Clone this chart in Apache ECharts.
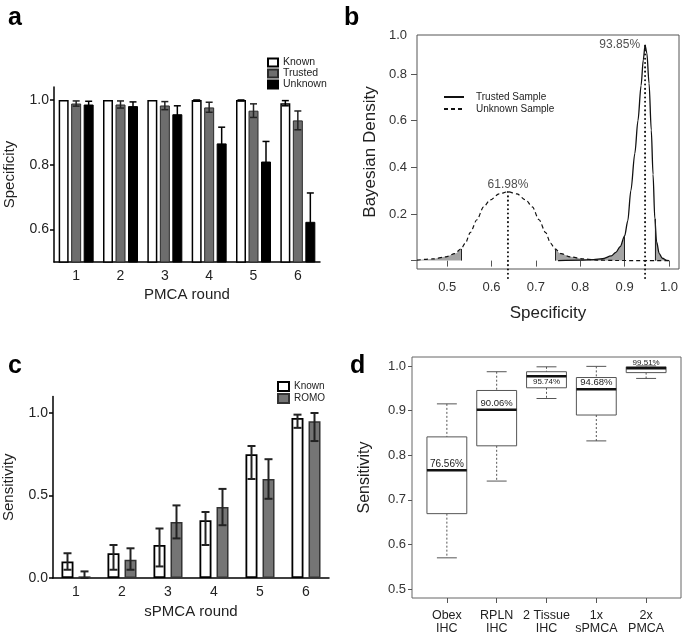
<!DOCTYPE html>
<html>
<head>
<meta charset="utf-8">
<script src="https://cdn.jsdelivr.net/npm/echarts@6/dist/echarts.min.js"></script>
<style>
html, body { margin: 0; padding: 0; background: #fff; }
#main { width: 685px; height: 637px; }
</style>
</head>
<body>
<div id="main"></div>
<script>
// ---- panel a: specificity per PMCA round
var roundsA = ['1', '2', '3', '4', '5', '6'];
var knownA = [1.0, 1.0, 1.0, 1.0, 1.0, 0.99];
var knownAHi = [1.0, 1.0, 1.0, 1.0, 1.0, 0.998];
var knownALo = [1.0, 1.0, 1.0, 0.996, 0.997, 0.982];
var trustedA = [0.989, 0.986, 0.983, 0.977, 0.967, 0.937];
var trustedAHi = [0.997, 0.997, 0.995, 0.993, 0.988, 0.966];
var trustedALo = [0.981, 0.975, 0.970, 0.962, 0.946, 0.908];
var unknownA = [0.986, 0.981, 0.956, 0.866, 0.810, 0.624];
var unknownAHi = [0.996, 0.994, 0.982, 0.916, 0.872, 0.713];
var unknownALo = [0.976, 0.968, 0.930, 0.816, 0.748, 0.535];

// ---- panel b: posterior densities
var trustedCurve = [[0.75, 0], [0.80, 0.002], [0.83, 0.004], [0.85, 0.008], [0.87, 0.02], [0.88, 0.035],
  [0.89, 0.06], [0.90, 0.106], [0.907, 0.17], [0.914, 0.3], [0.923, 0.46], [0.93, 0.6], [0.937, 0.75],
  [0.942, 0.86], [0.946, 0.924], [0.95, 0.89], [0.955, 0.76], [0.96, 0.56], [0.964, 0.37], [0.968, 0.18],
  [0.972, 0.08], [0.978, 0.03], [0.985, 0.01], [0.995, 0.001], [1.0, 0]];
var unknownCurve = [[0.432, 0.002], [0.467, 0.007], [0.497, 0.016], [0.517, 0.03], [0.531, 0.05],
  [0.541, 0.075], [0.552, 0.12], [0.567, 0.175], [0.582, 0.23], [0.597, 0.26], [0.617, 0.286],
  [0.637, 0.295], [0.657, 0.286], [0.677, 0.26], [0.692, 0.23], [0.707, 0.175], [0.722, 0.12],
  [0.733, 0.075], [0.743, 0.05], [0.757, 0.03], [0.777, 0.016], [0.807, 0.007], [0.842, 0.002],
  [0.88, 0.0005], [0.95, 0], [1.0, 0]];
var trustedCuts = [0.90, 0.968];
var unknownCuts = [0.531, 0.743];
var peakX = [0.637, 0.946];
var peakY = [0.295, 0.924];
var peakText = ['61.98%', '93.85%'];

// ---- panel c: sensitivity per sPMCA round
var roundsC = ['1', '2', '3', '4', '5', '6'];
var knownC = [0.10, 0.15, 0.20, 0.35, 0.75, 0.97];
var knownCHi = [0.15, 0.20, 0.30, 0.40, 0.80, 0.99];
var knownCLo = [0.05, 0.05, 0.07, 0.20, 0.60, 0.91];
var romoC = [0.01, 0.11, 0.34, 0.43, 0.60, 0.95];
var romoCHi = [0.04, 0.18, 0.44, 0.54, 0.72, 1.0];
var romoCLo = [0.0, 0.05, 0.24, 0.32, 0.48, 0.83];

// ---- panel d: sensitivity by test
var testsD = ['Obex\nIHC', 'RPLN\nIHC', '2 Tissue\nIHC', '1x\nsPMCA', '2x\nPMCA'];
var boxLow = [0.570, 0.742, 0.927, 0.832, 0.972];
var boxQ1 = [0.669, 0.821, 0.951, 0.890, 0.985];
var boxMed = [0.766, 0.902, 0.977, 0.948, 0.995];
var boxQ3 = [0.841, 0.945, 0.987, 0.974, 0.998];
var boxHigh = [0.915, 0.987, 0.998, 0.999, 1.0];
var medLabels = ['76.56%', '90.06%', '95.74%', '94.68%', '99.51%'];

var FONT = 'Liberation Sans, Arial, sans-serif';
var medFont = [10, 9.5, 8, 9.5, 8];

function errSeries(axis, hi, lo, offset, color, capW, lw) {
  return {
    type: 'custom', xAxisIndex: axis, yAxisIndex: axis, silent: true, z: 5,
    data: hi.map(function (h, i) { return [i, h, lo[i]]; }),
    renderItem: function (params, api) {
      var a = api.coord([api.value(0), api.value(1)]);
      var b = api.coord([api.value(0), api.value(2)]);
      if (Math.abs(a[1] - b[1]) < 0.5) return;
      var x = a[0] + offset;
      var st = { stroke: color, lineWidth: lw };
      return {
        type: 'group', children: [
          { type: 'line', shape: { x1: x, y1: a[1], x2: x, y2: b[1] }, style: st },
          { type: 'line', shape: { x1: x - capW / 2, y1: a[1], x2: x + capW / 2, y2: a[1] }, style: st },
          { type: 'line', shape: { x1: x - capW / 2, y1: b[1], x2: x + capW / 2, y2: b[1] }, style: st }
        ]
      };
    }
  };
}

function heightAt(curve, x) {
  for (var i = 0; i < curve.length; i++) {
    if (curve[i][0] === x) return curve[i][1];
  }
  return 0;
}

// shaded tail under a curve, left of cut (side<0) or right of cut (side>0)
function tailSeries(curve, cut, side) {
  var pts = curve.filter(function (p) { return side < 0 ? p[0] <= cut : p[0] >= cut; });
  return {
    type: 'line', xAxisIndex: 1, yAxisIndex: 1, data: pts, symbol: 'none', silent: true,
    smooth: 0.3, smoothMonotone: 'x', z: 2,
    lineStyle: { width: 0 },
    areaStyle: { color: '#a4a4a4', opacity: 1 },
    markLine: {
      symbol: 'none', silent: true, label: { show: false },
      lineStyle: { color: '#222', type: 'solid', width: 1 },
      data: [[{ coord: [cut, 0] }, { coord: [cut, heightAt(curve, cut)] }]]
    }
  };
}

function renderBox(params, api) {
  var i = params.dataIndex;
  var x = api.value(0);
  var lo = api.coord([x, api.value(1)]);
  var q1 = api.coord([x, api.value(2)]);
  var med = api.coord([x, api.value(3)]);
  var q3 = api.coord([x, api.value(4)]);
  var hi = api.coord([x, api.value(5)]);
  var bw = api.size([0.8, 0])[0];
  var cw = api.size([0.4, 0])[0];
  var cx = med[0];
  var stroke = '#555';
  var dash = { stroke: stroke, lineWidth: 1, lineDash: [2, 2] };
  var solid = { stroke: stroke, lineWidth: 1 };
  var below = i === 2;
  return {
    type: 'group', children: [
      { type: 'line', shape: { x1: cx, y1: hi[1], x2: cx, y2: q3[1] }, style: dash },
      { type: 'line', shape: { x1: cx, y1: q1[1], x2: cx, y2: lo[1] }, style: dash },
      { type: 'line', shape: { x1: cx - cw / 2, y1: hi[1], x2: cx + cw / 2, y2: hi[1] }, style: solid },
      { type: 'line', shape: { x1: cx - cw / 2, y1: lo[1], x2: cx + cw / 2, y2: lo[1] }, style: solid },
      { type: 'rect', shape: { x: cx - bw / 2, y: q3[1], width: bw, height: q1[1] - q3[1] },
        style: { fill: '#fff', stroke: stroke, lineWidth: 1 } },
      { type: 'line', shape: { x1: cx - bw / 2, y1: med[1], x2: cx + bw / 2, y2: med[1] },
        style: { stroke: '#111', lineWidth: 2.5 } },
      { type: 'text', z2: 10, style: {
          text: medLabels[i], x: cx, y: below ? med[1] + 2 : med[1] - 1.5,
          align: 'center', verticalAlign: below ? 'top' : 'bottom',
          fontSize: medFont[i], fontFamily: FONT, fill: '#222' } }
    ]
  };
}

var chart = echarts.init(document.getElementById('main'));

var boxed = { show: true, borderColor: '#555', borderWidth: 1, backgroundColor: 'transparent' };
var dotted = { color: '#111', width: 2, type: [0.1, 4.2], cap: 'round' };

var option = {
  animation: false,
  textStyle: { fontFamily: FONT },
  title: [
    { text: 'a', left: 3, top: 1, textStyle: { fontSize: 25, fontWeight: 'bold', color: '#000' } },
    { text: 'b', left: 339, top: 1, textStyle: { fontSize: 25, fontWeight: 'bold', color: '#000' } },
    { text: 'c', left: 3, top: 349, textStyle: { fontSize: 25, fontWeight: 'bold', color: '#000' } },
    { text: 'd', left: 345, top: 349, textStyle: { fontSize: 25, fontWeight: 'bold', color: '#000' } }
  ],
  legend: [
    { data: ['Known', 'Trusted', 'Unknown'], left: 267, top: 57, orient: 'vertical', icon: 'rect',
      itemWidth: 10, itemHeight: 8, itemGap: 0, selectedMode: false, padding: 0,
      textStyle: { fontSize: 10.5, color: '#222' } },
    { data: ['Trusted Sample', 'Unknown Sample'], left: 443, top: 92, orient: 'vertical',
      itemWidth: 20, itemHeight: 10, itemGap: 2, selectedMode: false, padding: 0,
      itemStyle: { color: 'transparent', borderWidth: 0, opacity: 0 },
      textStyle: { fontSize: 10, color: '#222', padding: [0, 0, 0, 7] } },
    { data: ['Known', 'ROMO'], left: 277, top: 381, orient: 'vertical', icon: 'rect',
      itemWidth: 11, itemHeight: 9, itemGap: 1, selectedMode: false, padding: 0,
      textStyle: { fontSize: 10, color: '#222' } }
  ],
  grid: [
    { left: 54, top: 87, width: 266, height: 175 },
    Object.assign({ left: 417, top: 35, width: 262, height: 234 }, boxed),
    { left: 53, top: 396.5, width: 276, height: 181.5 },
    Object.assign({ left: 412, top: 357, width: 269, height: 241 }, boxed, { borderColor: '#666' })
  ],
  xAxis: [
    { gridIndex: 0, type: 'category', data: roundsA,
      axisLine: { lineStyle: { color: '#000', width: 1.5 } },
      axisTick: { alignWithLabel: true, length: 4, lineStyle: { width: 1.5 } },
      axisLabel: { fontSize: 14, color: '#222', margin: 7 },
      name: 'PMCA round', nameLocation: 'middle', nameGap: 25,
      nameTextStyle: { fontSize: 15, color: '#222' } },
    { gridIndex: 1, type: 'value', min: 0.432, max: 1.0225,
      axisLine: { show: false }, splitLine: { show: false },
      axisTick: { show: true, length: 6, customValues: [0.5, 0.6, 0.7, 0.8, 0.9, 1.0], lineStyle: { color: '#555' } },
      axisLabel: { customValues: [0.5, 0.6, 0.7, 0.8, 0.9, 1.0], fontSize: 13, color: '#333', margin: 12,
        formatter: function (v) { return v.toFixed(1); } },
      name: 'Specificity', nameLocation: 'middle', nameGap: 36,
      nameTextStyle: { fontSize: 17, color: '#222' } },
    { gridIndex: 2, type: 'category', data: roundsC,
      axisLine: { lineStyle: { color: '#000', width: 1.5 } },
      axisTick: { alignWithLabel: true, length: 4, lineStyle: { width: 1.5 } },
      axisLabel: { fontSize: 14, color: '#222', margin: 7 },
      name: 'sPMCA round', nameLocation: 'middle', nameGap: 26,
      nameTextStyle: { fontSize: 15, color: '#222' } },
    { gridIndex: 3, type: 'value', min: 0.3, max: 5.7,
      axisLine: { show: false }, splitLine: { show: false },
      axisTick: { show: true, length: 5, customValues: [1, 2, 3, 4, 5], lineStyle: { color: '#555' } },
      axisLabel: { customValues: [1, 2, 3, 4, 5], fontSize: 12.5, color: '#222', margin: 11, lineHeight: 13,
        formatter: function (v) { return testsD[Math.round(v) - 1]; } } }
  ],
  yAxis: [
    { gridIndex: 0, type: 'value', min: 0.5, max: 1.04,
      axisLine: { show: true, lineStyle: { color: '#000', width: 1.5 } }, splitLine: { show: false },
      axisTick: { show: true, length: 4, customValues: [0.6, 0.8, 1.0], lineStyle: { width: 1.5 } },
      axisLabel: { customValues: [0.6, 0.8, 1.0], fontSize: 14, color: '#222', margin: 5,
        formatter: function (v) { return v.toFixed(1); } },
      name: 'Specificity', nameLocation: 'middle', nameGap: 37,
      nameTextStyle: { fontSize: 15, color: '#222' } },
    { gridIndex: 1, type: 'value', min: -0.036, max: 0.967,
      axisLine: { show: false }, splitLine: { show: false },
      axisTick: { show: true, length: 6, customValues: [0, 0.2, 0.4, 0.6, 0.8], lineStyle: { color: '#555' } },
      axisLabel: { customValues: [0.2, 0.4, 0.6, 0.8, 0.967], fontSize: 13, color: '#333', margin: 10,
        formatter: function (v) { return v > 0.9 ? '1.0' : v.toFixed(1); } },
      name: 'Bayesian Density', nameLocation: 'middle', nameGap: 38,
      nameTextStyle: { fontSize: 17, color: '#222' } },
    { gridIndex: 2, type: 'value', min: 0, max: 1.1,
      axisLine: { show: true, lineStyle: { color: '#000', width: 1.5 } }, splitLine: { show: false },
      axisTick: { show: true, length: 4, customValues: [0, 0.5, 1.0], lineStyle: { width: 1.5 } },
      axisLabel: { customValues: [0, 0.5, 1.0], fontSize: 14, color: '#222', margin: 5,
        formatter: function (v) { return v.toFixed(1); } },
      name: 'Sensitivity', nameLocation: 'middle', nameGap: 37,
      nameTextStyle: { fontSize: 15, color: '#222' } },
    { gridIndex: 3, type: 'value', min: 0.48, max: 1.02,
      axisLine: { show: false }, splitLine: { show: false },
      axisTick: { show: true, length: 4, customValues: [0.5, 0.6, 0.7, 0.8, 0.9, 1.0], lineStyle: { color: '#555' } },
      axisLabel: { customValues: [0.5, 0.6, 0.7, 0.8, 0.9, 1.0], fontSize: 13, color: '#333', margin: 6,
        formatter: function (v) { return v.toFixed(1); } },
      name: 'Sensitivity', nameLocation: 'middle', nameGap: 39,
      nameTextStyle: { fontSize: 16, color: '#222' } }
  ],
  series: [
    // panel a
    { type: 'bar', name: 'Known', xAxisIndex: 0, yAxisIndex: 0, data: knownA, barWidth: 10, barGap: '25%',
      itemStyle: { color: '#fff', borderColor: '#000', borderWidth: 1.5 } },
    { type: 'bar', name: 'Trusted', xAxisIndex: 0, yAxisIndex: 0, data: trustedA, barWidth: 10, barGap: '25%',
      itemStyle: { color: '#6d6d6d', borderColor: '#2a2a2a', borderWidth: 1 } },
    { type: 'bar', name: 'Unknown', xAxisIndex: 0, yAxisIndex: 0, data: unknownA, barWidth: 10, barGap: '25%',
      itemStyle: { color: '#000', borderColor: '#000', borderWidth: 1 } },
    errSeries(0, knownAHi, knownALo, -12.5, '#000', 7, 1.5),
    errSeries(0, trustedAHi, trustedALo, 0, '#222', 7, 1.5),
    errSeries(0, unknownAHi, unknownALo, 12.5, '#000', 7, 1.5),

    // panel b
    tailSeries(unknownCurve, unknownCuts[0], -1),
    tailSeries(unknownCurve, unknownCuts[1], 1),
    tailSeries(trustedCurve, trustedCuts[0], -1),
    tailSeries(trustedCurve, trustedCuts[1], 1),
    { type: 'line', name: 'Trusted Sample', xAxisIndex: 1, yAxisIndex: 1, data: trustedCurve,
      symbol: 'none', smooth: 0.3, smoothMonotone: 'x', z: 4,
      lineStyle: { color: '#111', width: 1.3, type: 'solid' } },
    { type: 'line', name: 'Unknown Sample', xAxisIndex: 1, yAxisIndex: 1, data: unknownCurve,
      symbol: 'none', smooth: 0.3, smoothMonotone: 'x', z: 4,
      lineStyle: { color: '#111', width: 1.2, type: [4, 3] } },
    { type: 'line', xAxisIndex: 1, yAxisIndex: 1, data: [[peakX[0], -0.075], [peakX[0], peakY[0]]],
      symbol: 'none', clip: false, silent: true, z: 5, lineStyle: dotted },
    { type: 'line', xAxisIndex: 1, yAxisIndex: 1, data: [[peakX[1], -0.075], [peakX[1], peakY[1]]],
      symbol: 'none', clip: false, silent: true, z: 5, lineStyle: dotted },
    { type: 'scatter', xAxisIndex: 1, yAxisIndex: 1, symbolSize: 0, silent: true, z: 6,
      data: [
        { value: [peakX[0], peakY[0]], name: peakText[0], label: { position: 'top', distance: 1 } },
        { value: [peakX[1], peakY[1]], name: peakText[1], label: { position: 'left', distance: 5 } }
      ],
      label: { show: true, formatter: '{b}', fontSize: 12, color: '#222' } },

    // panel c
    { type: 'bar', name: 'Known', xAxisIndex: 2, yAxisIndex: 2, data: knownC, barWidth: 12, barGap: '42%',
      itemStyle: { color: '#fff', borderColor: '#000', borderWidth: 1.8 } },
    { type: 'bar', name: 'ROMO', xAxisIndex: 2, yAxisIndex: 2, data: romoC, barWidth: 12, barGap: '42%',
      itemStyle: { color: '#757575', borderColor: '#333', borderWidth: 1.5 } },
    errSeries(2, knownCHi, knownCLo, -8.5, '#222', 8, 2),
    errSeries(2, romoCHi, romoCLo, 8.5, '#222', 8, 2),

    // panel d
    { type: 'custom', xAxisIndex: 3, yAxisIndex: 3, silent: true,
      data: testsD.map(function (t, i) { return [i + 1, boxLow[i], boxQ1[i], boxMed[i], boxQ3[i], boxHigh[i]]; }),
      renderItem: renderBox }
  ]
};

chart.setOption(option);
</script>
</body>
</html>
